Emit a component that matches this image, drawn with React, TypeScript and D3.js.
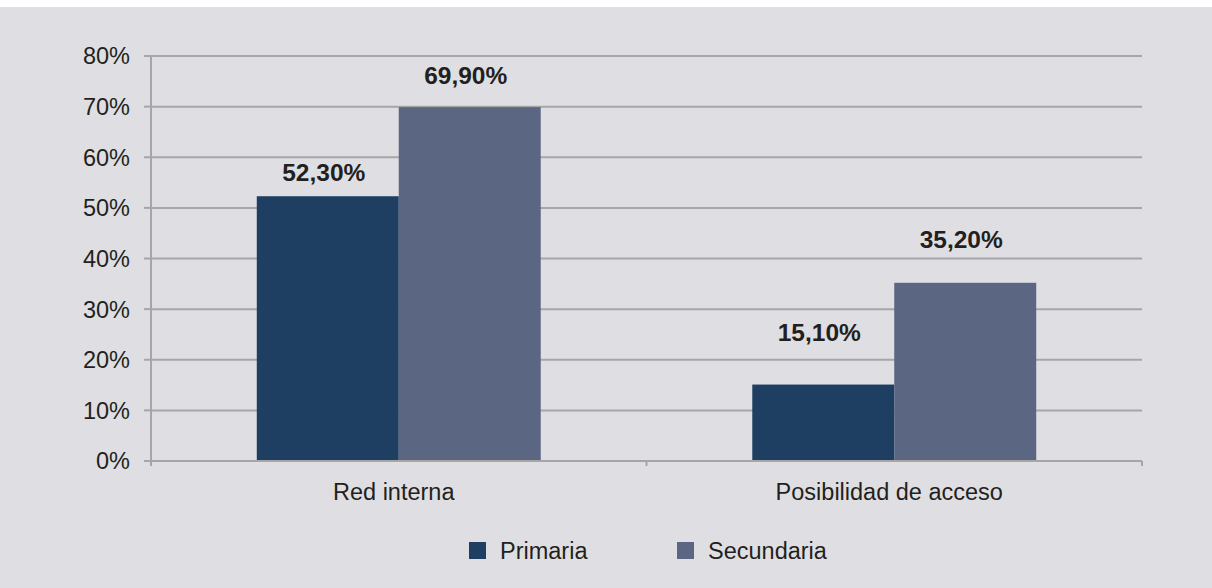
import React from "react";
import * as d3 from "d3";

const categories = ["Red interna", "Posibilidad de acceso"];
const seriesNames = ["Primaria", "Secundaria"];
const primaria = [52.3, 15.1];
const secundaria = [69.9, 35.2];
const valueLabels = [["52,30%", "69,90%"], ["15,10%", "35,20%"]];
const yTicks = [0, 10, 20, 30, 40, 50, 60, 70, 80];

// layout constants (label lift above each bar, px)
const labelLift = [[15, 23], [44, 35]];

const W = 1212;
const H = 588;
const colors = ["#1e3f62", "#5a6682"];
const BG = "#dfdfe3";
const GRID = "#a6a6a9";
const TEXT = "#231f20";
const FONT = "'Liberation Sans', Arial, Helvetica, sans-serif";

export default function App() {
  const left = 151;
  const right = 1142;
  const top = 56;
  const bottom = 461;

  const y = d3.scaleLinear().domain([0, 80]).range([bottom, top]);
  const x0 = d3.scaleBand<string>().domain(categories).range([left, right]).padding(0);
  const x1 = d3
    .scaleBand<string>()
    .domain(seriesNames)
    .range([0, x0.bandwidth()])
    .paddingInner(0)
    .paddingOuter(0.745);

  const values = [primaria, secundaria];

  return (
    <svg
      width={W}
      height={H}
      style={{ position: "absolute", left: 0, top: 0, display: "block" }}
      fontFamily={FONT}
    >
      <rect x={0} y={0} width={W} height={H} fill="#ffffff" />
      <rect x={0} y={7} width={W} height={H - 7} fill={BG} />

      {/* gridlines */}
      {yTicks.map((t) =>
        t === 0 ? null : (
          <line key={"g" + t} x1={left} x2={right} y1={y(t)} y2={y(t)} stroke={GRID} strokeWidth={2} />
        )
      )}
      {/* y tick marks and labels */}
      {yTicks.map((t) => (
        <g key={"t" + t}>
          <line x1={144} x2={left} y1={y(t)} y2={y(t)} stroke={GRID} strokeWidth={2} />
          <text
            x={130}
            y={y(t) + 5}
            textAnchor="end"
            fontSize={23.5}
            fill={TEXT}
            dominantBaseline="middle"
            dy="-0.12em"
          >
            {t + "%"}
          </text>
        </g>
      ))}

      {/* bars */}
      {categories.map((c, ci) =>
        seriesNames.map((s, si) => {
          const v = values[si][ci];
          const bx = (x0(c) as number) + (x1(s) as number);
          return (
            <rect
              key={c + s}
              x={bx}
              y={y(v)}
              width={x1.bandwidth()}
              height={y(0) - y(v)}
              fill={colors[si]}
            />
          );
        })
      )}

      {/* y axis */}
      <line x1={left} x2={left} y1={top} y2={bottom + 5} stroke={GRID} strokeWidth={2} />
      {/* x axis */}
      <line x1={left} x2={right} y1={bottom} y2={bottom} stroke={GRID} strokeWidth={2} />
      {[...categories.map((c) => x0(c) as number), right].map((xx, i) => (
        <line key={"xt" + i} x1={xx} x2={xx} y1={bottom} y2={bottom + 5} stroke={GRID} strokeWidth={2} />
      ))}

      {/* value labels */}
      {categories.map((c, ci) =>
        seriesNames.map((s, si) => {
          const v = values[si][ci];
          const cx = (x0(c) as number) + (x1(s) as number) + x1.bandwidth() / 2 - 4;
          return (
            <text
              key={"l" + c + s}
              x={cx}
              y={y(v) - labelLift[ci][si]}
              textAnchor="middle"
              fontSize={24.5}
              fontWeight="bold"
              fill={TEXT}
            >
              {valueLabels[ci][si]}
            </text>
          );
        })
      )}

      {/* category labels */}
      {categories.map((c) => (
        <text
          key={"c" + c}
          x={(x0(c) as number) + x0.bandwidth() / 2 - 5}
          y={500}
          textAnchor="middle"
          fontSize={23.5}
          fill={TEXT}
        >
          {c}
        </text>
      ))}

      {/* legend */}
      {seriesNames.map((s, i) => {
        const lx = [469, 677][i];
        return (
          <g key={"lg" + s}>
            <rect x={lx} y={542} width={17} height={17} fill={colors[i]} />
            <text x={lx + 31} y={559} fontSize={23.5} fill={TEXT}>
              {s}
            </text>
          </g>
        );
      })}
    </svg>
  );
}
